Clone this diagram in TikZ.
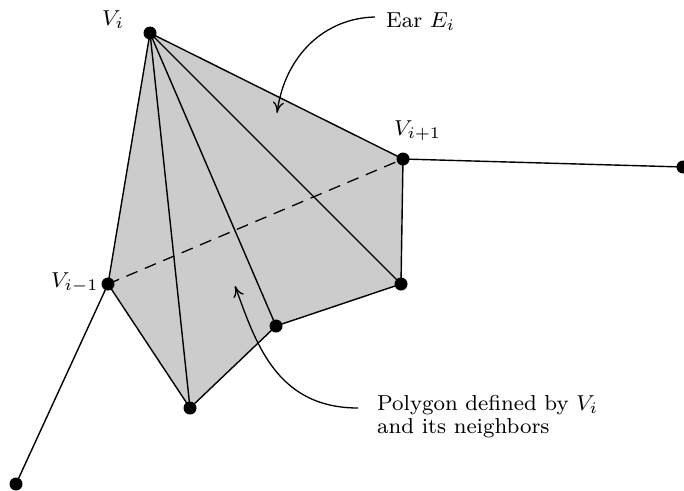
\documentclass[tikz,border=0pt]{standalone}
\usepackage{graphicx}
\usetikzlibrary{arrows.meta}
\newcommand{\bigtxt}[1]{\scalebox{2.7}{\footnotesize #1}}
\begin{document}
\begin{tikzpicture}[x=1pt,y=-1pt,
  dot/.style={circle,fill=black,inner sep=0pt,minimum size=13pt},
  edge/.style={line width=1.4pt},
  lbl/.style={inner sep=0pt,anchor=base west},
  pointer/.style={line width=1.3pt,-{To[length=11pt,width=11pt]}}]
\useasboundingbox (0,0) rectangle (684,490);
% vertices
\coordinate (vi) at (150,33);
\coordinate (vp) at (403,159);
\coordinate (r) at (683,167);
\coordinate (vm) at (108,284);
\coordinate (bl) at (16,484);
\coordinate (a) at (401,284);
\coordinate (b) at (276,326);
\coordinate (c) at (190,408);
% shaded polygon
\fill[gray!40] (vi) -- (vp) -- (a) -- (b) -- (c) -- (vm) -- cycle;
% edges
\draw[edge] (vi) -- (vp) -- (a) -- (b) -- (c) -- (vm) -- cycle;
\draw[edge] (vi) -- (a);
\draw[edge] (vi) -- (b);
\draw[edge] (vi) -- (c);
\draw[edge] (vp) -- (r);
\draw[edge] (vm) -- (bl);
\draw[line width=1.3pt,dash pattern=on 12pt off 8pt] (vm) -- (vp);
% dots
\foreach \p in {vi,vp,r,vm,bl,a,b,c} \node[dot] (d\p) at (\p) {};
% labels
\node[lbl] (lvi) at (102,25) {\bigtxt{$V_i$}};
\node[lbl] (lvp) at (394,135) {\bigtxt{$V_{i+1}$}};
\node[lbl] (lvm) at (51,287) {\bigtxt{$V_{i-1}$}};
\node[lbl] (ear) at (386,27) {\bigtxt{Ear $E_i$}};
\node[lbl] (poly1) at (377,410) {\bigtxt{Polygon defined by $V_i$}};
\node[lbl] (poly2) at (377,433) {\bigtxt{and its neighbors}};
% pointers
\coordinate (earstart) at (375,17);
\coordinate (eartip) at (277,113);
\coordinate (polystart) at (358,408);
\coordinate (polytip) at (235,286);
\draw[pointer] (earstart) .. controls (325,18) and (285,55) .. (eartip);
\draw[pointer] (polystart) .. controls (275,408) and (255,340) .. (polytip);
\end{tikzpicture}
\end{document}
